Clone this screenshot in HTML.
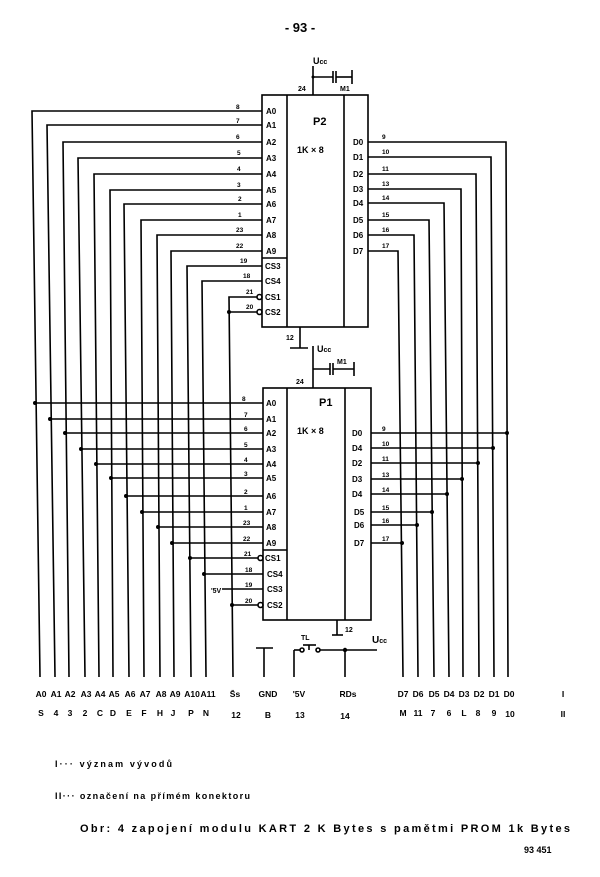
<!DOCTYPE html>
<html><head><meta charset="utf-8"><style>
html,body{margin:0;padding:0;background:#fff;}
svg{display:block;}
text{font-family:"Liberation Sans",sans-serif;font-weight:bold;fill:#000;}
</style></head><body>
<svg width="600" height="877" viewBox="0 0 600 877" xmlns="http://www.w3.org/2000/svg">
<g stroke="#000" stroke-width="1.6" fill="none">
<rect x="262" y="95" width="106" height="232"/>
<line x1="287" y1="95" x2="287" y2="327"/>
<line x1="344" y1="95" x2="344" y2="327"/>
<line x1="262" y1="258" x2="287" y2="258"/>
<line x1="313" y1="66" x2="313" y2="95"/>
<line x1="313" y1="77" x2="333" y2="77"/>
<line x1="333" y1="71" x2="333" y2="83"/>
<line x1="336" y1="71" x2="336" y2="83"/>
<line x1="336" y1="77" x2="352" y2="77"/>
<line x1="352" y1="70" x2="352" y2="84"/>
<line x1="300" y1="327" x2="300" y2="348"/>
<line x1="290" y1="348" x2="308" y2="348"/>
<rect x="263" y="388" width="108" height="232"/>
<line x1="287" y1="388" x2="287" y2="620"/>
<line x1="345" y1="388" x2="345" y2="620"/>
<line x1="263" y1="550" x2="287" y2="550"/>
<line x1="313" y1="346" x2="313" y2="388"/>
<line x1="313" y1="369" x2="330" y2="369"/>
<line x1="330" y1="363" x2="330" y2="375"/>
<line x1="333" y1="363" x2="333" y2="375"/>
<line x1="333" y1="369" x2="354" y2="369"/>
<line x1="354" y1="362" x2="354" y2="376"/>
<line x1="337" y1="620" x2="337" y2="635"/>
<line x1="332" y1="635" x2="343" y2="635"/>
<line x1="294" y1="677" x2="294" y2="650"/>
<line x1="294" y1="650" x2="300" y2="650"/>
<circle cx="302" cy="650" r="2"/>
<line x1="303" y1="645" x2="316" y2="645"/>
<line x1="309" y1="645" x2="309" y2="650"/>
<circle cx="318" cy="650" r="2"/>
<line x1="320" y1="650" x2="377" y2="650"/>
<line x1="345" y1="650" x2="345" y2="677"/>
<line x1="264" y1="648" x2="264" y2="677"/>
<line x1="256" y1="648" x2="273" y2="648"/>

<polyline points="262,111 32,111 40,677"/>
<polyline points="262,125 47,125 55,677"/>
<polyline points="262,142 63,142 69,677"/>
<polyline points="262,158 78,158 85,677"/>
<polyline points="262,174 94,174 99,677"/>
<polyline points="262,190 110,190 113,677"/>
<polyline points="262,204 124,204 129,677"/>
<polyline points="262,220 141,220 144,677"/>
<polyline points="262,235 157,235 160,677"/>
<polyline points="262,251 171,251 174,677"/>
<polyline points="262,266 187,266 191,677"/>
<polyline points="262,281 202,281 206,677"/>
<polyline points="257,297 229,297 233,677"/>
<line x1="229" y1="312" x2="257" y2="312"/>
<circle cx="259.5" cy="297" r="2.5"/>
<circle cx="259.5" cy="312" r="2.5"/>

<line x1="35" y1="403" x2="263" y2="403"/>
<line x1="50" y1="419" x2="263" y2="419"/>
<line x1="65" y1="433" x2="263" y2="433"/>
<line x1="81" y1="449" x2="263" y2="449"/>
<line x1="96" y1="464" x2="263" y2="464"/>
<line x1="111" y1="478" x2="263" y2="478"/>
<line x1="126" y1="496" x2="263" y2="496"/>
<line x1="142" y1="512" x2="263" y2="512"/>
<line x1="158" y1="527" x2="263" y2="527"/>
<line x1="172" y1="543" x2="263" y2="543"/>
<line x1="190" y1="558" x2="258" y2="558"/>
<line x1="204" y1="574" x2="263" y2="574"/>
<line x1="222" y1="589" x2="263" y2="589"/>
<line x1="232" y1="605" x2="258" y2="605"/>
<circle cx="260.5" cy="558" r="2.5"/>
<circle cx="260.5" cy="605" r="2.5"/>

<polyline points="368,142 506,142 508,677"/>
<polyline points="368,157 491,157 494,677"/>
<polyline points="368,174 476,174 479,677"/>
<polyline points="368,189 461,189 463,677"/>
<polyline points="368,203 444,203 449,677"/>
<polyline points="368,220 429,220 434,677"/>
<polyline points="368,235 414,235 418,677"/>
<polyline points="368,251 398,251 403,677"/>
<line x1="371" y1="433" x2="507" y2="433"/>
<line x1="371" y1="448" x2="493" y2="448"/>
<line x1="371" y1="463" x2="478" y2="463"/>
<line x1="371" y1="479" x2="462" y2="479"/>
<line x1="371" y1="494" x2="447" y2="494"/>
<line x1="371" y1="512" x2="432" y2="512"/>
<line x1="371" y1="525" x2="417" y2="525"/>
<line x1="371" y1="543" x2="402" y2="543"/>
</g>
<g fill="#000">
<circle cx="229" cy="312" r="2"/>
<circle cx="313" cy="77" r="1.5"/>
<circle cx="35" cy="403" r="2"/><circle cx="50" cy="419" r="2"/><circle cx="65" cy="433" r="2"/>
<circle cx="81" cy="449" r="2"/><circle cx="96" cy="464" r="2"/><circle cx="111" cy="478" r="2"/>
<circle cx="126" cy="496" r="2"/><circle cx="142" cy="512" r="2"/><circle cx="158" cy="527" r="2"/>
<circle cx="172" cy="543" r="2"/><circle cx="190" cy="558" r="2"/><circle cx="204" cy="574" r="2"/>
<circle cx="232" cy="605" r="2"/>
<circle cx="507" cy="433" r="2"/><circle cx="493" cy="448" r="2"/><circle cx="478" cy="463" r="2"/>
<circle cx="462" cy="479" r="2"/><circle cx="447" cy="494" r="2"/><circle cx="432" cy="512" r="2"/>
<circle cx="417" cy="525" r="2"/><circle cx="402" cy="543" r="2"/>
<circle cx="345" cy="650" r="2.2"/>
</g>

<text x="300" y="32" font-size="13" text-anchor="middle">- 93 -</text>
<text x="313" y="64" font-size="9">U<tspan font-size="7">cc</tspan></text>
<text x="340" y="91" font-size="7">M1</text>
<text x="298" y="91" font-size="7">24</text>
<text x="313" y="125" font-size="11">P2</text>
<text x="297" y="153" font-size="9">1K × 8</text>
<text x="286" y="340" font-size="7">12</text>
<g font-size="8">
<text x="266" y="114">A0</text><text x="266" y="128">A1</text><text x="266" y="145">A2</text><text x="266" y="161">A3</text>
<text x="266" y="177">A4</text><text x="266" y="193">A5</text><text x="266" y="207">A6</text><text x="266" y="223">A7</text>
<text x="266" y="238">A8</text><text x="266" y="254">A9</text>
<text x="265" y="269">CS3</text><text x="265" y="284">CS4</text><text x="265" y="300">CS1</text><text x="265" y="315">CS2</text>
<text x="353" y="145">D0</text><text x="353" y="160">D1</text><text x="353" y="177">D2</text><text x="353" y="192">D3</text>
<text x="353" y="206">D4</text><text x="353" y="223">D5</text><text x="353" y="238">D6</text><text x="353" y="254">D7</text>
</g>
<g font-size="6.5">
<text x="236" y="109">8</text><text x="236" y="123">7</text><text x="236" y="139">6</text><text x="237" y="155">5</text>
<text x="237" y="171">4</text><text x="237" y="187">3</text><text x="238" y="201">2</text><text x="238" y="217">1</text>
<text x="236" y="232">23</text><text x="236" y="248">22</text><text x="240" y="263">19</text><text x="243" y="278">18</text>
<text x="246" y="294">21</text><text x="246" y="309">20</text>
<text x="382" y="139">9</text><text x="382" y="154">10</text><text x="382" y="171">11</text><text x="382" y="186">13</text>
<text x="382" y="200">14</text><text x="382" y="217">15</text><text x="382" y="232">16</text><text x="382" y="248">17</text>
</g>
<text x="317" y="352" font-size="9">U<tspan font-size="7">cc</tspan></text>
<text x="337" y="364" font-size="7">M1</text>
<text x="296" y="384" font-size="7">24</text>
<text x="319" y="406" font-size="11">P1</text>
<text x="297" y="434" font-size="9">1K × 8</text>
<text x="345" y="632" font-size="7">12</text>
<g font-size="8">
<text x="266" y="406">A0</text><text x="266" y="422">A1</text><text x="266" y="436">A2</text><text x="266" y="452">A3</text>
<text x="266" y="467">A4</text><text x="266" y="481">A5</text><text x="266" y="499">A6</text><text x="266" y="515">A7</text>
<text x="266" y="530">A8</text><text x="266" y="546">A9</text>
<text x="265" y="561">CS1</text><text x="267" y="577">CS4</text><text x="267" y="592">CS3</text><text x="267" y="608">CS2</text>
<text x="352" y="436">D0</text><text x="352" y="451">D4</text><text x="352" y="466">D2</text><text x="352" y="482">D3</text>
<text x="352" y="497">D4</text><text x="354" y="515">D5</text><text x="354" y="528">D6</text><text x="354" y="546">D7</text>
</g>
<g font-size="6.5">
<text x="242" y="401">8</text><text x="244" y="417">7</text><text x="244" y="431">6</text><text x="244" y="447">5</text>
<text x="244" y="462">4</text><text x="244" y="476">3</text><text x="244" y="494">2</text><text x="244" y="510">1</text>
<text x="243" y="525">23</text><text x="243" y="541">22</text><text x="244" y="556">21</text><text x="245" y="572">18</text>
<text x="245" y="587">19</text><text x="245" y="603">20</text>
<text x="382" y="431">9</text><text x="382" y="446">10</text><text x="382" y="461">11</text><text x="382" y="477">13</text>
<text x="382" y="492">14</text><text x="382" y="510">15</text><text x="382" y="523">16</text><text x="382" y="541">17</text>
</g>
<text x="211" y="593" font-size="7">'5V</text>
<text x="301" y="640" font-size="7">TL</text>
<text x="372" y="643" font-size="10">U<tspan font-size="7">cc</tspan></text>

<g font-size="8.5" text-anchor="middle">
<text x="41" y="697">A0</text><text x="56" y="697">A1</text><text x="70" y="697">A2</text><text x="86" y="697">A3</text>
<text x="100" y="697">A4</text><text x="114" y="697">A5</text><text x="130" y="697">A6</text><text x="145" y="697">A7</text>
<text x="161" y="697">A8</text><text x="175" y="697">A9</text><text x="192" y="697">A10</text><text x="208" y="697">A11</text>
<text x="235" y="697">S̄s</text><text x="268" y="697">GND</text><text x="299" y="697">'5V</text><text x="348" y="697">RDs</text>
<text x="403" y="697">D7</text><text x="418" y="697">D6</text><text x="434" y="697">D5</text><text x="449" y="697">D4</text>
<text x="464" y="697">D3</text><text x="479" y="697">D2</text><text x="494" y="697">D1</text><text x="509" y="697">D0</text>
<text x="563" y="697" font-family="Liberation Serif">I</text>
</g>
<g font-size="8.5" text-anchor="middle">
<text x="41" y="716">S</text><text x="56" y="716">4</text><text x="70" y="716">3</text><text x="85" y="716">2</text>
<text x="100" y="716">C</text><text x="113" y="716">D</text><text x="129" y="716">E</text><text x="144" y="716">F</text>
<text x="160" y="716">H</text><text x="173" y="716">J</text><text x="191" y="716">P</text><text x="206" y="716">N</text>
<text x="236" y="718">12</text><text x="268" y="718">B</text><text x="300" y="718">13</text><text x="345" y="719">14</text>
<text x="403" y="716">M</text><text x="418" y="716">11</text><text x="433" y="716">7</text><text x="449" y="716">6</text>
<text x="464" y="716">L</text><text x="478" y="716">8</text><text x="494" y="716">9</text><text x="510" y="717">10</text>
<text x="563" y="717" font-family="Liberation Serif">II</text>
</g>
<text x="55" y="767" font-size="9" font-weight="normal" textLength="117" lengthAdjust="spacing">I··· význam vývodů</text>
<text x="55" y="799" font-size="9" font-weight="normal" textLength="195" lengthAdjust="spacing">II··· označení na přímém konektoru</text>
<text x="80" y="832" font-size="11" font-weight="normal" textLength="490" lengthAdjust="spacing">Obr:  4  zapojení modulu KART  2 K Bytes s pamětmi PROM  1k Bytes</text>
<text x="524" y="853" font-size="9">93 451</text>
</svg>
</body></html>
